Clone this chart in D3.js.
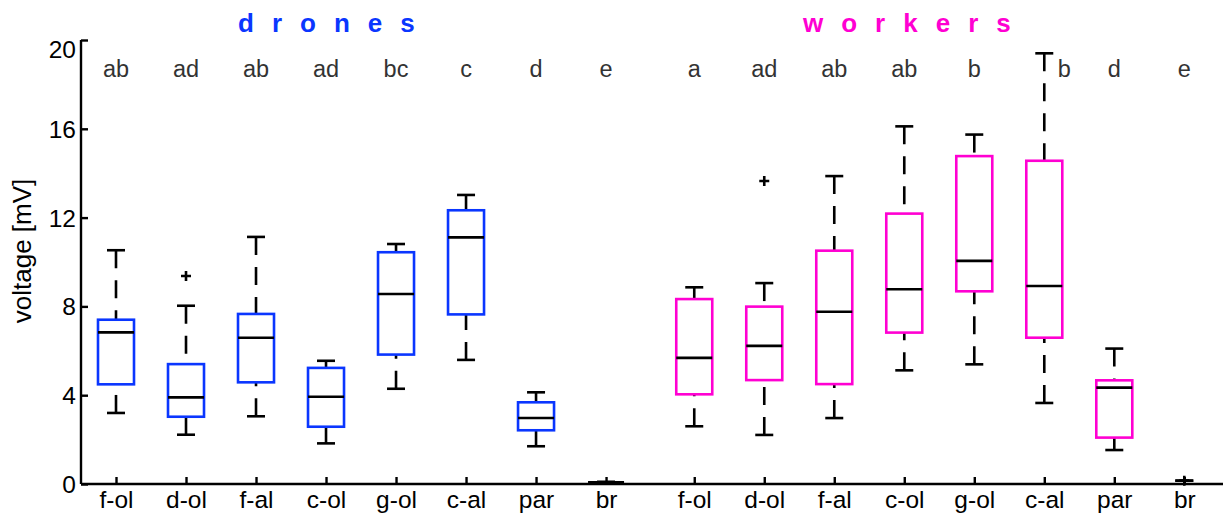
<!DOCTYPE html>
<html>
<head>
<meta charset="utf-8">
<script src="https://cdn.jsdelivr.net/npm/d3@7/dist/d3.min.js"></script>
<style>
  html, body { margin: 0; padding: 0; background: #fff; }
  svg { display: block; font-family: "Liberation Sans", Arial, sans-serif; }
</style>
</head>
<body>
<svg id="chart" width="1223" height="518"></svg>
<script>
// ---------------- data ----------------
const categories = ["f-ol", "d-ol", "f-al", "c-ol", "g-ol", "c-al", "par", "br"];
const yTicks = [0, 4, 8, 12, 16, 20];

const groupNames = ["drones", "workers"];

const dronesLetters = ["ab", "ad", "ab", "ad", "bc", "c", "d", "e"];
const dronesLow    = [3.20, 2.22, 3.05, 1.83, 4.29, 5.59, 1.70, 0.06];
const dronesQ1     = [4.49, 3.03, 4.58, 2.58, 5.83, 7.64, 2.42, 0.08];
const dronesMedian = [6.83, 3.90, 6.59, 3.93, 8.56, 11.11, 2.97, 0.08];
const dronesQ3     = [7.40, 5.40, 7.66, 5.23, 10.44, 12.33, 3.68, 0.08];
const dronesHigh   = [10.53, 8.03, 11.13, 5.55, 10.81, 13.02, 4.13, 0.10];
const dronesOutliers = [[], [9.37], [], [], [], [], [], []];

const workersLetters = ["a", "ad", "ab", "ab", "b", "b", "d", "e"];
const workersLow    = [2.60, 2.21, 2.97, 5.12, 5.39, 3.65, 1.53, 0.15];
const workersQ1     = [4.04, 4.68, 4.50, 6.82, 8.68, 6.59, 2.09, 0.00];
const workersMedian = [5.68, 6.22, 7.76, 8.77, 10.05, 8.92, 4.34, 0.00];
const workersQ3     = [8.33, 7.99, 10.51, 12.18, 14.77, 14.56, 4.67, 0.00];
const workersHigh   = [8.86, 9.05, 13.87, 16.11, 15.74, 19.40, 6.10, 0.15];
const workersOutliers = [[], [13.65], [], [], [], [], [], [0.15]];

// ---------------- layout / style ----------------
const colors = { drones: "#0a36ff", workers: "#ff00d2" };
const groupGap = 1.26;           // extra spacing between the two groups (in slot units)
const letterLevel = 18.5;        // y-value at which significance letters sit

const svg = d3.select("#chart");
const margin = { left: 81 };
const W = 1223;

const y = d3.scaleLinear().domain([0, 20]).range([484, 40]);
const x = d3.scaleLinear().domain([0.5, 16.77]).range([margin.left, 1220]);

function build(name, letters, lo, q1, med, q3, hi, outl, offset) {
  return categories.map((c, i) => ({
    group: name, cat: c, pos: i + 1 + offset, letter: letters[i],
    lo: lo[i], q1: q1[i], med: med[i], q3: q3[i], hi: hi[i], out: outl[i]
  }));
}
const data = [
  ...build("drones", dronesLetters, dronesLow, dronesQ1, dronesMedian, dronesQ3, dronesHigh, dronesOutliers, 0),
  ...build("workers", workersLetters, workersLow, workersQ1, workersMedian, workersQ3, workersHigh, workersOutliers, 8 + groupGap - 1)
];

const boxW = 36, capW = 18, sw = 2.6;
const FF = "Liberation Sans, Arial, sans-serif";

// ---------------- axes ----------------
const yAxis = d3.axisLeft(y).tickValues(yTicks).tickSize(-7).tickPadding(12).tickFormat(d3.format("d"));
const gy = svg.append("g").attr("transform", `translate(${margin.left},0)`).call(yAxis);
gy.select(".domain").attr("d", `M0,${y(0)}V${y(20)}`).attr("stroke", "#000").attr("stroke-width", 2.4);
gy.selectAll(".tick line").attr("stroke", "#000").attr("stroke-width", 2.4);
gy.selectAll(".tick text").attr("font-size", 24.5).attr("fill", "#000")
  .attr("font-family", FF).attr("x", -5)
  .attr("dy", d => d === 20 ? "0.72em" : "0.35em");

const xAxis = d3.axisBottom(x).tickValues(data.map(d => d.pos))
  .tickFormat((d, i) => data[i].cat).tickSize(-7).tickPadding(16);
const gx = svg.append("g").attr("transform", `translate(0,${y(0)})`).call(xAxis);
gx.select(".domain").attr("d", `M${margin.left},0H${W}`).attr("stroke", "#000").attr("stroke-width", 2.4);
gx.selectAll(".tick line").attr("stroke", "#000").attr("stroke-width", 2.4);
gx.selectAll(".tick text").attr("font-size", 24.5).attr("fill", "#000")
  .attr("font-family", FF).attr("y", 24).attr("dy", 0);

// ---------------- boxes ----------------
const g = svg.append("g");
const items = g.selectAll("g.item").data(data).join("g").attr("class", "item");

// whiskers (dashed, dash phase starts at the cap)
items.append("line")
  .attr("x1", d => x(d.pos)).attr("x2", d => x(d.pos))
  .attr("y1", d => y(d.hi)).attr("y2", d => y(d.q3))
  .attr("stroke", "#000").attr("stroke-width", sw).attr("stroke-dasharray", "18,12");
items.append("line")
  .attr("x1", d => x(d.pos)).attr("x2", d => x(d.pos))
  .attr("y1", d => y(d.lo)).attr("y2", d => y(d.q1))
  .attr("stroke", "#000").attr("stroke-width", sw).attr("stroke-dasharray", "18,12");
// caps
["hi", "lo"].forEach(k => {
  items.append("line")
    .attr("x1", d => x(d.pos) - capW / 2).attr("x2", d => x(d.pos) + capW / 2)
    .attr("y1", d => y(d[k])).attr("y2", d => y(d[k]))
    .attr("stroke", "#000").attr("stroke-width", sw);
});
// box
items.filter(d => d.q3 > 0).append("rect")
  .attr("x", d => x(d.pos) - boxW / 2).attr("width", boxW)
  .attr("y", d => y(d.q3)).attr("height", d => y(d.q1) - y(d.q3))
  .attr("fill", "none").attr("stroke", d => colors[d.group]).attr("stroke-width", sw);
// median
items.filter(d => d.med > 0).append("line")
  .attr("x1", d => x(d.pos) - boxW / 2).attr("x2", d => x(d.pos) + boxW / 2)
  .attr("y1", d => y(d.med)).attr("y2", d => y(d.med))
  .attr("stroke", "#000").attr("stroke-width", sw);
// outliers "+"
items.each(function (d) {
  const sel = d3.select(this);
  d.out.forEach(v => {
    const cx = x(d.pos), cy = y(v);
    sel.append("path").attr("d", `M${cx - 5},${cy}H${cx + 5}M${cx},${cy - 5}V${cy + 5}`)
      .attr("stroke", "#000").attr("stroke-width", sw).attr("fill", "none");
  });
});

// significance letters
items.append("text")
  .attr("x", d => x(d.pos) + (d.hi > letterLevel ? 20 : 0))
  .attr("y", 77)
  .attr("text-anchor", "middle").attr("font-size", 23.5).attr("fill", "#333")
  .attr("font-family", FF)
  .text(d => d.letter);

// group titles
const titleX = { drones: 238, workers: 803 };
groupNames.forEach(n => {
  svg.append("text").attr("x", titleX[n]).attr("y", 32)
    .attr("font-size", 26).attr("font-weight", "bold")
    .attr("letter-spacing", 18).attr("font-family", FF)
    .attr("fill", colors[n]).text(n);
});

// y label
svg.append("text")
  .attr("transform", `translate(31,${251}) rotate(-90)`)
  .attr("text-anchor", "middle").attr("font-size", 26).attr("fill", "#000")
  .attr("font-family", FF)
  .text("voltage [mV]");
</script>
</body>
</html>
